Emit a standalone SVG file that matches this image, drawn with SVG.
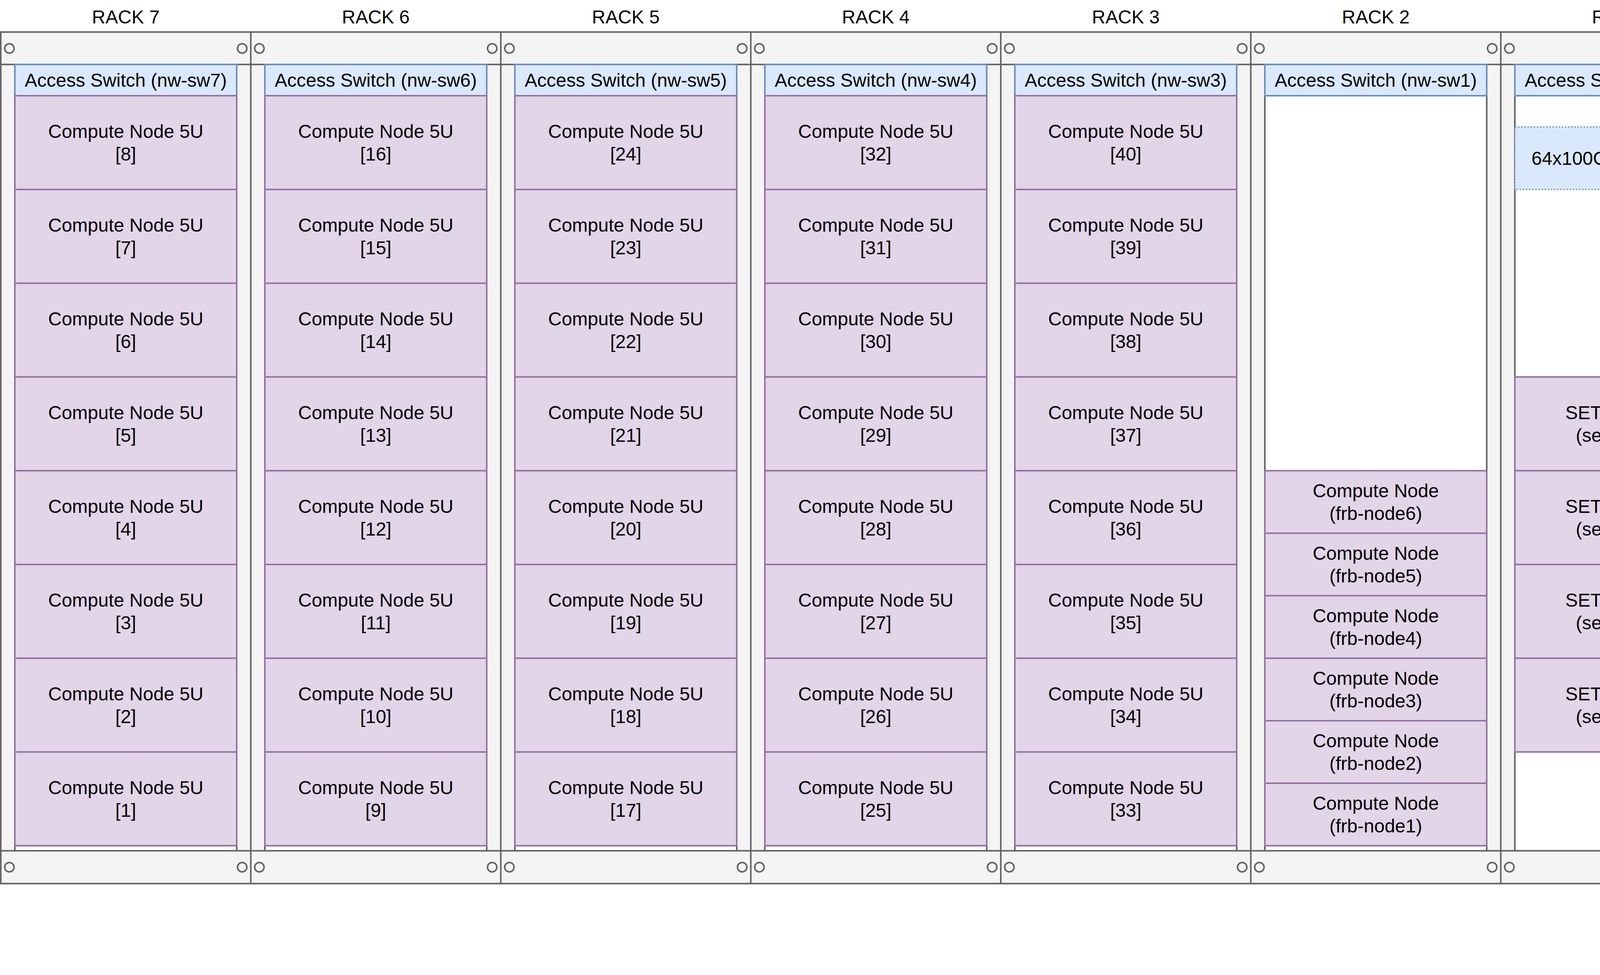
<svg xmlns="http://www.w3.org/2000/svg" width="5124" height="2496" viewBox="0 0 5124 2496">
<style>
text{font-family:"Liberation Sans",Arial,Helvetica,sans-serif;font-size:48px;text-anchor:middle;fill:#000}
.rack{fill:#f4f4f4;stroke:#666;stroke-width:4}
.int{fill:#fff;stroke:#666;stroke-width:4}
.ln{stroke:#666;stroke-width:4}
.screw{fill:none;stroke:#666;stroke-width:4}
.sw{fill:#dae8fc;stroke:#6c8ebf;stroke-width:4}
.swd{fill:#dae8fc;stroke:#6c8ebf;stroke-width:3;stroke-dasharray:4 4}
.pu{fill:#e1d5e7;stroke:#9673a6;stroke-width:4}
.ye{fill:#fff2cc;stroke:#d6b656;stroke-width:4}
.re{fill:#f8cecc;stroke:#b85450;stroke-width:4}
.pp{fill:#f5f5f5;stroke:#666;stroke-width:4}
.gt{fill:#333}
.title{font-size:64px;text-anchor:start}
.pre{white-space:pre}
</style>
<defs>
<g id="cab">
<rect class="rack" x="2" y="82" width="640" height="2180"/>
<rect class="int" x="38" y="165" width="568" height="2013"/>
<line class="ln" x1="2" y1="165" x2="642" y2="165"/>
<line class="ln" x1="2" y1="2178" x2="642" y2="2178"/>
<circle class="screw" cx="24" cy="124" r="12"/>
<circle class="screw" cx="620" cy="124" r="12"/>
<circle class="screw" cx="24" cy="2220" r="12"/>
<circle class="screw" cx="620" cy="2220" r="12"/>
</g>
</defs>

<g id="labels">
<text x="322" y="60">RACK 7</text>
<text x="962" y="60">RACK 6</text>
<text x="1602" y="60">RACK 5</text>
<text x="2242" y="60">RACK 4</text>
<text x="2882" y="60">RACK 3</text>
<text x="3522" y="60">RACK 2</text>
<text x="4162" y="60">RACK 1</text>
<text x="4802" y="60">RACK 0</text>
</g>

<g id="cabinets">
<use href="#cab" x="0"/>
<use href="#cab" x="640"/>
<use href="#cab" x="1280"/>
<use href="#cab" x="1920"/>
<use href="#cab" x="2560"/>
<use href="#cab" x="3200"/>
<use href="#cab" x="3840"/>
<use href="#cab" x="4480"/>
</g>

<g id="rack7">
<g id="nw-sw7"><rect class="sw" x="38" y="165" width="568" height="80"/><text x="322" y="222">Access Switch (nw-sw7)</text></g>
<g id="r7n8"><rect class="pu" x="38" y="245" width="568" height="240"/><text x="322" y="353">Compute Node 5U</text><text x="322" y="411">[8]</text></g>
<g id="r7n7"><rect class="pu" x="38" y="485" width="568" height="240"/><text x="322" y="593">Compute Node 5U</text><text x="322" y="651">[7]</text></g>
<g id="r7n6"><rect class="pu" x="38" y="725" width="568" height="240"/><text x="322" y="833">Compute Node 5U</text><text x="322" y="891">[6]</text></g>
<g id="r7n5"><rect class="pu" x="38" y="965" width="568" height="240"/><text x="322" y="1073">Compute Node 5U</text><text x="322" y="1131">[5]</text></g>
<g id="r7n4"><rect class="pu" x="38" y="1205" width="568" height="240"/><text x="322" y="1313">Compute Node 5U</text><text x="322" y="1371">[4]</text></g>
<g id="r7n3"><rect class="pu" x="38" y="1445" width="568" height="240"/><text x="322" y="1553">Compute Node 5U</text><text x="322" y="1611">[3]</text></g>
<g id="r7n2"><rect class="pu" x="38" y="1685" width="568" height="240"/><text x="322" y="1793">Compute Node 5U</text><text x="322" y="1851">[2]</text></g>
<g id="r7n1"><rect class="pu" x="38" y="1925" width="568" height="240"/><text x="322" y="2033">Compute Node 5U</text><text x="322" y="2091">[1]</text></g>
</g>

<g id="rack6">
<g id="nw-sw6"><rect class="sw" x="678" y="165" width="568" height="80"/><text x="962" y="222">Access Switch (nw-sw6)</text></g>
<g id="r6n16"><rect class="pu" x="678" y="245" width="568" height="240"/><text x="962" y="353">Compute Node 5U</text><text x="962" y="411">[16]</text></g>
<g id="r6n15"><rect class="pu" x="678" y="485" width="568" height="240"/><text x="962" y="593">Compute Node 5U</text><text x="962" y="651">[15]</text></g>
<g id="r6n14"><rect class="pu" x="678" y="725" width="568" height="240"/><text x="962" y="833">Compute Node 5U</text><text x="962" y="891">[14]</text></g>
<g id="r6n13"><rect class="pu" x="678" y="965" width="568" height="240"/><text x="962" y="1073">Compute Node 5U</text><text x="962" y="1131">[13]</text></g>
<g id="r6n12"><rect class="pu" x="678" y="1205" width="568" height="240"/><text x="962" y="1313">Compute Node 5U</text><text x="962" y="1371">[12]</text></g>
<g id="r6n11"><rect class="pu" x="678" y="1445" width="568" height="240"/><text x="962" y="1553">Compute Node 5U</text><text x="962" y="1611">[11]</text></g>
<g id="r6n10"><rect class="pu" x="678" y="1685" width="568" height="240"/><text x="962" y="1793">Compute Node 5U</text><text x="962" y="1851">[10]</text></g>
<g id="r6n9"><rect class="pu" x="678" y="1925" width="568" height="240"/><text x="962" y="2033">Compute Node 5U</text><text x="962" y="2091">[9]</text></g>
</g>

<g id="rack5">
<g id="nw-sw5"><rect class="sw" x="1318" y="165" width="568" height="80"/><text x="1602" y="222">Access Switch (nw-sw5)</text></g>
<g id="r5n24"><rect class="pu" x="1318" y="245" width="568" height="240"/><text x="1602" y="353">Compute Node 5U</text><text x="1602" y="411">[24]</text></g>
<g id="r5n23"><rect class="pu" x="1318" y="485" width="568" height="240"/><text x="1602" y="593">Compute Node 5U</text><text x="1602" y="651">[23]</text></g>
<g id="r5n22"><rect class="pu" x="1318" y="725" width="568" height="240"/><text x="1602" y="833">Compute Node 5U</text><text x="1602" y="891">[22]</text></g>
<g id="r5n21"><rect class="pu" x="1318" y="965" width="568" height="240"/><text x="1602" y="1073">Compute Node 5U</text><text x="1602" y="1131">[21]</text></g>
<g id="r5n20"><rect class="pu" x="1318" y="1205" width="568" height="240"/><text x="1602" y="1313">Compute Node 5U</text><text x="1602" y="1371">[20]</text></g>
<g id="r5n19"><rect class="pu" x="1318" y="1445" width="568" height="240"/><text x="1602" y="1553">Compute Node 5U</text><text x="1602" y="1611">[19]</text></g>
<g id="r5n18"><rect class="pu" x="1318" y="1685" width="568" height="240"/><text x="1602" y="1793">Compute Node 5U</text><text x="1602" y="1851">[18]</text></g>
<g id="r5n17"><rect class="pu" x="1318" y="1925" width="568" height="240"/><text x="1602" y="2033">Compute Node 5U</text><text x="1602" y="2091">[17]</text></g>
</g>

<g id="rack4">
<g id="nw-sw4"><rect class="sw" x="1958" y="165" width="568" height="80"/><text x="2242" y="222">Access Switch (nw-sw4)</text></g>
<g id="r4n32"><rect class="pu" x="1958" y="245" width="568" height="240"/><text x="2242" y="353">Compute Node 5U</text><text x="2242" y="411">[32]</text></g>
<g id="r4n31"><rect class="pu" x="1958" y="485" width="568" height="240"/><text x="2242" y="593">Compute Node 5U</text><text x="2242" y="651">[31]</text></g>
<g id="r4n30"><rect class="pu" x="1958" y="725" width="568" height="240"/><text x="2242" y="833">Compute Node 5U</text><text x="2242" y="891">[30]</text></g>
<g id="r4n29"><rect class="pu" x="1958" y="965" width="568" height="240"/><text x="2242" y="1073">Compute Node 5U</text><text x="2242" y="1131">[29]</text></g>
<g id="r4n28"><rect class="pu" x="1958" y="1205" width="568" height="240"/><text x="2242" y="1313">Compute Node 5U</text><text x="2242" y="1371">[28]</text></g>
<g id="r4n27"><rect class="pu" x="1958" y="1445" width="568" height="240"/><text x="2242" y="1553">Compute Node 5U</text><text x="2242" y="1611">[27]</text></g>
<g id="r4n26"><rect class="pu" x="1958" y="1685" width="568" height="240"/><text x="2242" y="1793">Compute Node 5U</text><text x="2242" y="1851">[26]</text></g>
<g id="r4n25"><rect class="pu" x="1958" y="1925" width="568" height="240"/><text x="2242" y="2033">Compute Node 5U</text><text x="2242" y="2091">[25]</text></g>
</g>

<g id="rack3">
<g id="nw-sw3"><rect class="sw" x="2598" y="165" width="568" height="80"/><text x="2882" y="222">Access Switch (nw-sw3)</text></g>
<g id="r3n40"><rect class="pu" x="2598" y="245" width="568" height="240"/><text x="2882" y="353">Compute Node 5U</text><text x="2882" y="411">[40]</text></g>
<g id="r3n39"><rect class="pu" x="2598" y="485" width="568" height="240"/><text x="2882" y="593">Compute Node 5U</text><text x="2882" y="651">[39]</text></g>
<g id="r3n38"><rect class="pu" x="2598" y="725" width="568" height="240"/><text x="2882" y="833">Compute Node 5U</text><text x="2882" y="891">[38]</text></g>
<g id="r3n37"><rect class="pu" x="2598" y="965" width="568" height="240"/><text x="2882" y="1073">Compute Node 5U</text><text x="2882" y="1131">[37]</text></g>
<g id="r3n36"><rect class="pu" x="2598" y="1205" width="568" height="240"/><text x="2882" y="1313">Compute Node 5U</text><text x="2882" y="1371">[36]</text></g>
<g id="r3n35"><rect class="pu" x="2598" y="1445" width="568" height="240"/><text x="2882" y="1553">Compute Node 5U</text><text x="2882" y="1611">[35]</text></g>
<g id="r3n34"><rect class="pu" x="2598" y="1685" width="568" height="240"/><text x="2882" y="1793">Compute Node 5U</text><text x="2882" y="1851">[34]</text></g>
<g id="r3n33"><rect class="pu" x="2598" y="1925" width="568" height="240"/><text x="2882" y="2033">Compute Node 5U</text><text x="2882" y="2091">[33]</text></g>
</g>

<g id="rack2">
<g id="r2-nw-sw1"><rect class="sw" x="3238" y="165" width="568" height="80"/><text x="3522" y="222">Access Switch (nw-sw1)</text></g>
<g id="frb-node6"><rect class="pu" x="3238" y="1205" width="568" height="160"/><text x="3522" y="1273">Compute Node</text><text x="3522" y="1331">(frb-node6)</text></g>
<g id="frb-node5"><rect class="pu" x="3238" y="1365" width="568" height="160"/><text x="3522" y="1433">Compute Node</text><text x="3522" y="1491">(frb-node5)</text></g>
<g id="frb-node4"><rect class="pu" x="3238" y="1525" width="568" height="160"/><text x="3522" y="1593">Compute Node</text><text x="3522" y="1651">(frb-node4)</text></g>
<g id="frb-node3"><rect class="pu" x="3238" y="1685" width="568" height="160"/><text x="3522" y="1753">Compute Node</text><text x="3522" y="1811">(frb-node3)</text></g>
<g id="frb-node2"><rect class="pu" x="3238" y="1845" width="568" height="160"/><text x="3522" y="1913">Compute Node</text><text x="3522" y="1971">(frb-node2)</text></g>
<g id="frb-node1"><rect class="pu" x="3238" y="2005" width="568" height="160"/><text x="3522" y="2073">Compute Node</text><text x="3522" y="2131">(frb-node1)</text></g>
</g>

<g id="rack1">
<g id="r1-nw-sw1"><rect class="sw" x="3878" y="165" width="568" height="80"/><text x="4162" y="222">Access Switch (nw-sw1)</text></g>
<g id="arista"><rect class="swd" x="3878" y="325" width="568" height="160"/><text x="4162" y="422">64x100G Arista Switch</text></g>
<g id="seti-node4"><rect class="pu" x="3878" y="965" width="568" height="240"/><text x="4162" y="1073">SETI Node 5U</text><text x="4162" y="1131">(seti-node4)</text></g>
<g id="seti-node3"><rect class="pu" x="3878" y="1205" width="568" height="240"/><text x="4162" y="1313">SETI Node 5U</text><text x="4162" y="1371">(seti-node3)</text></g>
<g id="seti-node2"><rect class="pu" x="3878" y="1445" width="568" height="240"/><text x="4162" y="1553">SETI Node 5U</text><text x="4162" y="1611">(seti-node2)</text></g>
<g id="seti-node1"><rect class="pu" x="3878" y="1685" width="568" height="240"/><text x="4162" y="1793">SETI Node 5U</text><text x="4162" y="1851">(seti-node1)</text></g>
</g>

<g id="rack0">
<g id="room-alert"><rect class="pu" x="4518" y="165" width="568" height="80"/><text x="4802" y="222">Room Alert Monitor</text></g>
<g id="fw1"><rect class="ye" x="4518" y="245" width="568" height="80"/><text x="4802" y="302">HCRO Firewall</text></g>
<g id="fw2"><rect class="ye" x="4518" y="325" width="568" height="80"/><text x="4802" y="382">HCRO Firewall</text></g>
<g id="isp"><rect class="ye" x="4518" y="405" width="568" height="80"/><text x="4802" y="462">ISP [WAN]</text></g>
<g id="ssh-dns"><rect class="pu" x="4518" y="485" width="568" height="80"/><text x="4802" y="542">[SSH / DNS] Server</text></g>
<g id="head"><rect class="pu" x="4518" y="565" width="568" height="80"/><text x="4802" y="622">Head Node (ldap)</text></g>
<g id="hfss"><rect class="pu" x="4518" y="645" width="568" height="80"/><text x="4802" y="702">HFSS Server (sisim1)</text></g>
<g id="vm"><rect class="pu" x="4518" y="725" width="568" height="80"/><text x="4802" y="782">VM: sisim2 / nsg-work1</text></g>
<g id="gnuradio0"><rect class="pu" x="4518" y="1205" width="568" height="80"/><text class="pre" x="4802" y="1262">GNU-Radio  (gnuradio0)</text></g>
<g id="gnuradio1"><rect class="pu" x="4518" y="1285" width="568" height="160"/><text x="4802" y="1382">GNU-Radio (gnuradio1)</text></g>
<g id="obs-node1"><rect class="pu" x="4518" y="1445" width="568" height="160"/><text x="4802" y="1513">Observer Node</text><text x="4802" y="1571">(obs-node1)</text></g>
<g id="sis0"><rect class="pu" x="4518" y="1605" width="568" height="160"/><text x="4802" y="1673">Storage Node</text><text x="4802" y="1731">(sis0) [400TB]</text></g>
<g id="sib0"><rect class="pu" x="4518" y="1765" width="568" height="80"/><text x="4802" y="1822">Backup Storage (sib0)</text></g>
<g id="core-sw1"><rect class="re" x="4518" y="1845" width="568" height="80"/><text x="4802" y="1902">Core Switch (core-sw)</text></g>
<g id="core-sw2"><rect class="re" x="4518" y="1925" width="568" height="80"/><text x="4802" y="1982">Core Switch (core-sw)</text></g>
<g id="nw-sw0"><rect class="sw" x="4518" y="2005" width="568" height="80"/><text x="4802" y="2062">Access Switch (nw-sw0)</text></g>
<g id="patch"><rect class="pp" x="4518" y="2085" width="568" height="80"/><text class="gt" x="4802" y="2142">Ethernet Patch Panel</text></g>
</g>

<g id="connectors"></g>

<g id="title">
<text class="title" x="4249" y="2388">HCRO SPR Rack Layout</text>
<text class="title" x="4249" y="2463">Alexander Pollak 08-04-2020</text>
</g>
</svg>
